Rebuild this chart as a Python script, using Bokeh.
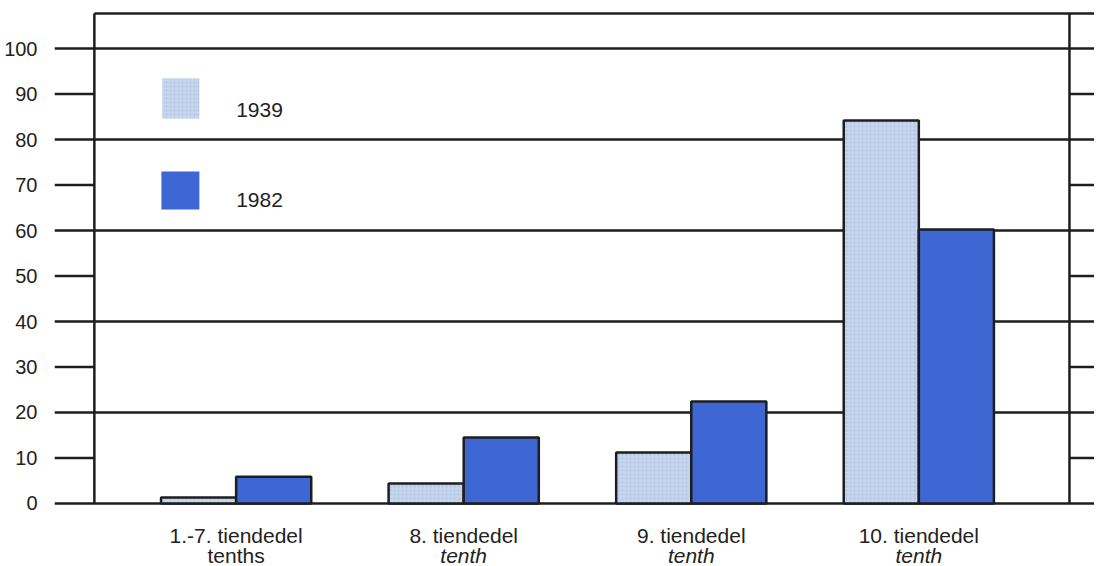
from bokeh.plotting import figure
from bokeh.models import Range1d, FixedTicker
from bokeh.core.properties import value
from bokeh.embed import file_html
from bokeh.resources import INLINE

# ---- data ----
categories = ["1.-7. tiendedel", "8. tiendedel", "9. tiendedel", "10. tiendedel"]
subtitles = ["tenths", "tenth", "tenth", "tenth"]
sub_styles = ["normal", "italic", "italic", "italic"]
series_names = ["1939", "1982"]
values_1939 = [1.3, 4.4, 11.2, 84.2]
values_1982 = [5.9, 14.5, 22.4, 60.2]
grid_values = [0, 20, 40, 60, 80, 100]
tick_only_values = [10, 30, 50, 70, 90]
tick_labels = [0, 10, 20, 30, 40, 50, 60, 70, 80, 90, 100]

# ---- style / layout ----
FONT = "Liberation Sans"
TEXT_COLOR = "#222222"
LINE_COLOR = "#1e1e1e"
LIGHT = "#c6d5ee"
DARK = "#3f67d4"
X0, X1 = 0.2018, 4.772
Y0, Y1 = -13.85, 108.8
FRAME_LEFT, FRAME_RIGHT, FRAME_TOP = 0.377, 4.662, 107.7
BAR_W = 0.33

p = figure(width=1094, height=566, output_backend="svg", toolbar_location=None,
           x_range=Range1d(X0, X1), y_range=Range1d(Y0, Y1),
           min_border_left=54, min_border_right=0, min_border_top=8, min_border_bottom=0)
p.outline_line_color = None
p.background_fill_color = "white"
p.xaxis.visible = False
p.xgrid.visible = False

yax = p.yaxis[0]
yax.ticker = FixedTicker(ticks=tick_labels)
yax.axis_line_color = None
yax.major_tick_line_color = None
yax.minor_tick_line_color = None
yax.major_label_standoff = 11
yax.major_label_text_font = FONT
yax.major_label_text_font_size = "20px"
yax.major_label_text_color = TEXT_COLOR

p.ygrid.ticker = FixedTicker(ticks=grid_values)
p.ygrid.grid_line_color = LINE_COLOR
p.ygrid.grid_line_width = 2.5

# short ticks for odd tens (outside the box, both sides)
p.segment(x0=[X0] * len(tick_only_values), y0=tick_only_values,
          x1=[FRAME_LEFT] * len(tick_only_values), y1=tick_only_values,
          line_color=LINE_COLOR, line_width=2.5)
p.segment(x0=[FRAME_RIGHT] * len(tick_only_values), y0=tick_only_values,
          x1=[X1] * len(tick_only_values), y1=tick_only_values,
          line_color=LINE_COLOR, line_width=2.5)

# box frame
p.segment(x0=[FRAME_LEFT, FRAME_RIGHT, FRAME_LEFT], y0=[0, 0, FRAME_TOP],
          x1=[FRAME_LEFT, FRAME_RIGHT, X1], y1=[FRAME_TOP, FRAME_TOP, FRAME_TOP],
          line_color=LINE_COLOR, line_width=2.5)

xs = [i + 1 for i in range(len(categories))]
p.vbar(x=[x - BAR_W / 2 for x in xs], top=values_1939, bottom=0, width=BAR_W,
       fill_color=LIGHT, line_color=LINE_COLOR, line_width=2.5,
       hatch_pattern="dot", hatch_color="#9fb2d2", hatch_alpha=0.6, hatch_scale=4)
p.vbar(x=[x + BAR_W / 2 for x in xs], top=values_1982, bottom=0, width=BAR_W,
       fill_color=DARK, line_color=LINE_COLOR, line_width=2.5)

# legend (manual)
p.rect(x=[0.757], y=[89.0], width=37, height=40, width_units="screen", height_units="screen",
       fill_color=LIGHT, line_color=None,
       hatch_pattern="dot", hatch_color="#9fb2d2", hatch_alpha=0.6, hatch_scale=4)
p.rect(x=[0.755], y=[68.8], width=38, height=38, width_units="screen", height_units="screen",
       fill_color=DARK, line_color=None)
p.text(x=[1.0, 1.0], y=[86.4, 66.6], text=series_names,
       text_font=value(FONT), text_font_size="21px", text_color=TEXT_COLOR,
       text_baseline="middle", text_align="left")

# category labels
p.text(x=xs, y=[-7.0] * len(xs), text=categories,
       text_font=value(FONT), text_font_size="21px", text_color=TEXT_COLOR,
       text_baseline="middle", text_align="center")
for x, s, st in zip(xs, subtitles, sub_styles):
    p.text(x=[x], y=[-11.5], text=[s],
           text_font=value(FONT), text_font_size="21px", text_color=TEXT_COLOR,
           text_font_style=st, text_baseline="middle", text_align="center")

open("out.html", "w").write(file_html(p, INLINE))
